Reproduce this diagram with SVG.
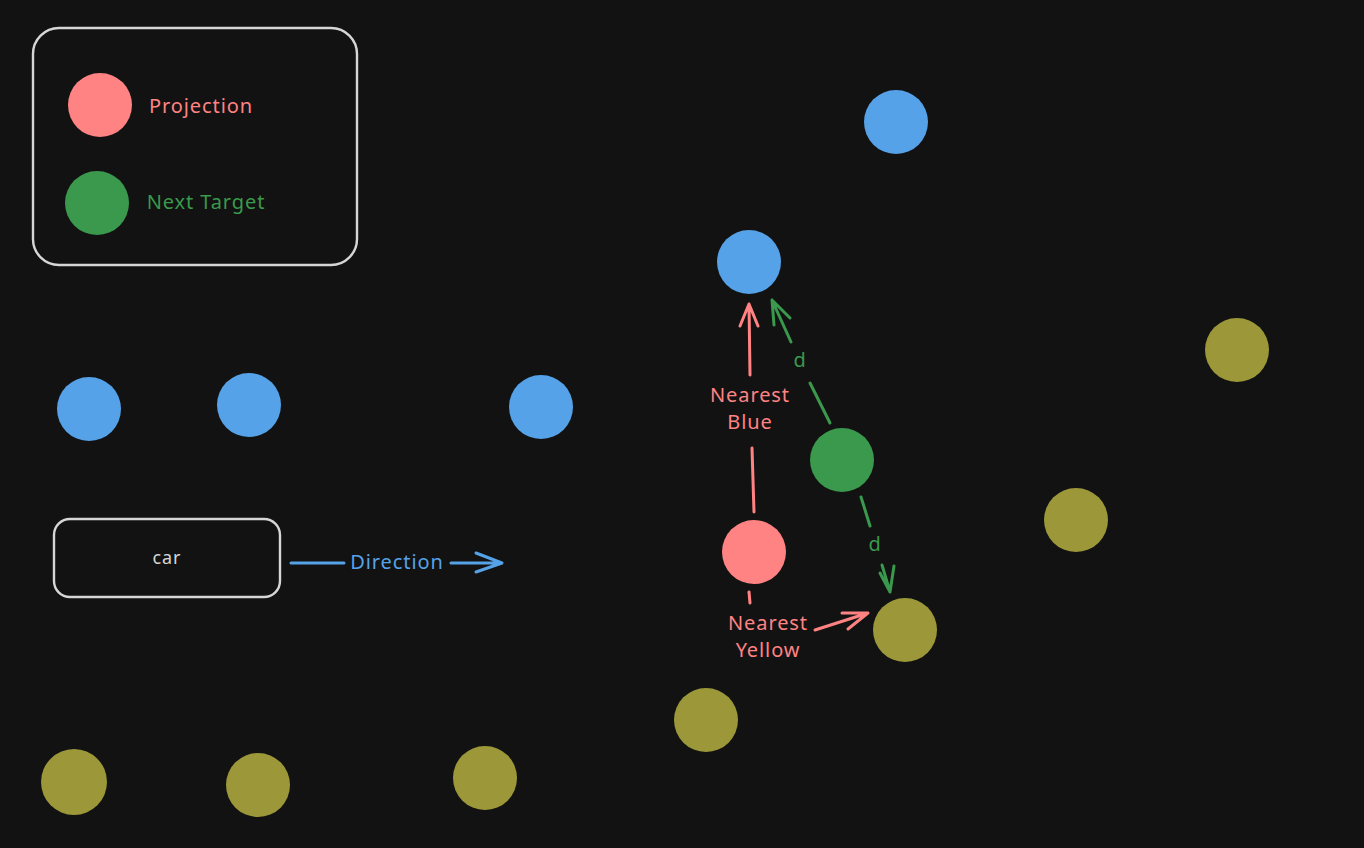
<svg xmlns="http://www.w3.org/2000/svg" width="1364" height="848" viewBox="0 0 1364 848">
<defs>
<style>
.box{fill:none;stroke:#d6d6d6;stroke-width:2.4}
.t{font-family:"Noto Sans",sans-serif;font-size:20px;letter-spacing:0.9px;text-anchor:middle;dominant-baseline:central}
.red{fill:#ff8383}.grn{fill:#3a994c}.blu{fill:#56a2e8}.yel{fill:#9c983a}
.lr{stroke:#ff8383;stroke-width:3;fill:none;stroke-linecap:round;stroke-linejoin:round}
.lg{stroke:#3a994c;stroke-width:3;fill:none;stroke-linecap:round;stroke-linejoin:round}
.lb{stroke:#56a2e8;stroke-width:3;fill:none;stroke-linecap:round;stroke-linejoin:round}
</style>
</defs>
<rect x="0" y="0" width="1364" height="848" fill="#121212"/>
<g id="legend">
<rect class="box" x="33" y="28" width="324" height="237" rx="26"/>
<circle class="red" cx="100" cy="105" r="32"/>
<text class="t" x="201" y="105" fill="#ff8383">Projection</text>
<circle class="grn" cx="97" cy="203" r="32"/>
<text class="t" x="206" y="201" fill="#3a994c">Next Target</text>
</g>
<g id="car">
<rect class="box" x="54" y="519" width="226" height="78" rx="16"/>
<text class="t" x="167" y="557" fill="#d6d6d6" style="font-size:18px">car</text>
</g>
<g id="blue-dots">
<circle class="blu" cx="896" cy="122" r="32"/>
<circle class="blu" cx="749" cy="262" r="32"/>
<circle class="blu" cx="89" cy="409" r="32"/>
<circle class="blu" cx="249" cy="405" r="32"/>
<circle class="blu" cx="541" cy="407" r="32"/>
</g>
<g id="yellow-dots">
<circle class="yel" cx="1237" cy="350" r="32"/>
<circle class="yel" cx="1076" cy="520" r="32"/>
<circle class="yel" cx="905" cy="630" r="32"/>
<circle class="yel" cx="706" cy="720" r="32"/>
<circle class="yel" cx="74" cy="782" r="33"/>
<circle class="yel" cx="258" cy="785" r="32"/>
<circle class="yel" cx="485" cy="778" r="32"/>
</g>
<g id="next-target"><circle class="grn" cx="842" cy="460" r="32"/></g>
<g id="projection"><circle class="red" cx="754" cy="552" r="32"/></g>
<g id="connectors">
<path class="lb" d="M291 563 L344 563"/>
<path class="lb" d="M451 563 L502 563 M476 553 L502 563 L476 572"/>
<text class="t" x="397" y="561" fill="#56a2e8">Direction</text>
<path class="lr" d="M754 512 L752 448"/>
<path class="lr" d="M750 375 L749 304 M740 326 L749 304 L758 326"/>
<text class="t" x="750" y="394" fill="#ff8383">Nearest</text>
<text class="t" x="750" y="421" fill="#ff8383">Blue</text>
<path class="lr" d="M749 592 L750 603"/>
<path class="lr" d="M815 630 L868 613 M842 613 L868 613 M848 629 L868 613"/>
<text class="t" x="768" y="622" fill="#ff8383">Nearest</text>
<text class="t" x="768" y="649" fill="#ff8383">Yellow</text>
<path class="lg" d="M830 423 L810 383"/>
<path class="lg" d="M791 342 L772 300 M772 300 L790 318 M772 300 L774 325"/>
<text class="t" x="800" y="359" fill="#3a994c">d</text>
<path class="lg" d="M861 497 L870 526"/>
<path class="lg" d="M882 565 L890 592 M880 573 L890 592 M894 566 L890 592"/>
<text class="t" x="875" y="543" fill="#3a994c">d</text>
</g>
</svg>
